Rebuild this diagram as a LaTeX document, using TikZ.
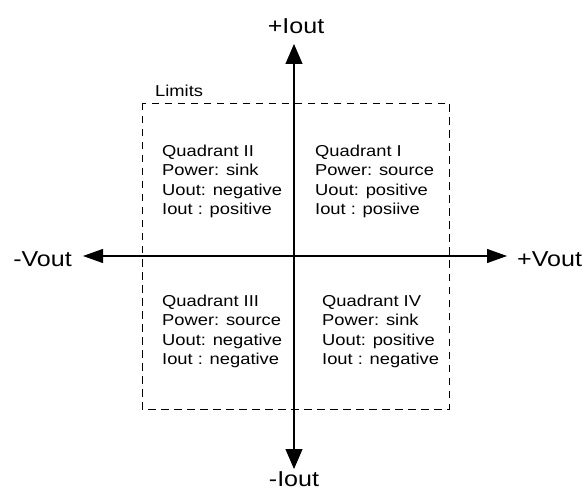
\documentclass[tikz,border=0pt]{standalone}
\usepackage{fontspec}
\setmainfont{Liberation Sans}[FakeStretch=1.16]
\usetikzlibrary{arrows.meta}
\begin{document}
\begin{tikzpicture}[x=1pt,y=-1pt,
  vaxis/.style={line width=1.1pt,-{Triangle[length=20pt,width=17pt]}},
  haxis/.style={line width=1.1pt,-{Triangle[length=20pt,width=14pt]}},
  quad/.style={anchor=north west,align=left,inner sep=0pt,font=\fontsize{15.8}{19.2}\selectfont},
  biglab/.style={inner sep=0pt,font=\fontsize{21.6}{24}\selectfont},
  limbox/.style={draw,dashed,dash pattern=on 7.5pt off 5.5pt,line width=0.8pt}]
\useasboundingbox (0,0) rectangle (587,492);
\coordinate (c) at (294,256);
\coordinate (top) at (294,44);
\coordinate (bot) at (294,469);
\coordinate (lft) at (83,256);
\coordinate (rgt) at (507,256);
\draw[limbox] (142,103) rectangle (449,409);
\node[anchor=base west,inner sep=0pt,font=\fontsize{15.8}{19}\selectfont] (lim) at (155,97) {Limits};
\draw[vaxis] (c) -- (top);
\draw[vaxis] (c) -- (bot);
\draw[haxis] (c) -- (lft);
\draw[haxis] (c) -- (rgt);
\node[biglab,anchor=base] (pi) at (296,34) {+Iout};
\node[biglab,anchor=base] (mi) at (294,486.5) {-Iout};
\node[biglab,anchor=base east] (mv) at (72,266) {-Vout};
\node[biglab,anchor=base west] (pv) at (517,266) {+Vout};
\node[quad] (q2) at (162,145) {Quadrant II\\Power: sink\\Uout: negative\\Iout : positive};
\node[quad] (q1) at (315,145) {Quadrant I\\Power: source\\Uout: positive\\Iout : posiive};
\node[quad] (q3) at (162,295) {Quadrant III\\Power: source\\Uout: negative\\Iout : negative};
\node[quad] (q4) at (322,295) {Quadrant IV\\Power: sink\\Uout: positive\\Iout : negative};
\end{tikzpicture}
\end{document}
